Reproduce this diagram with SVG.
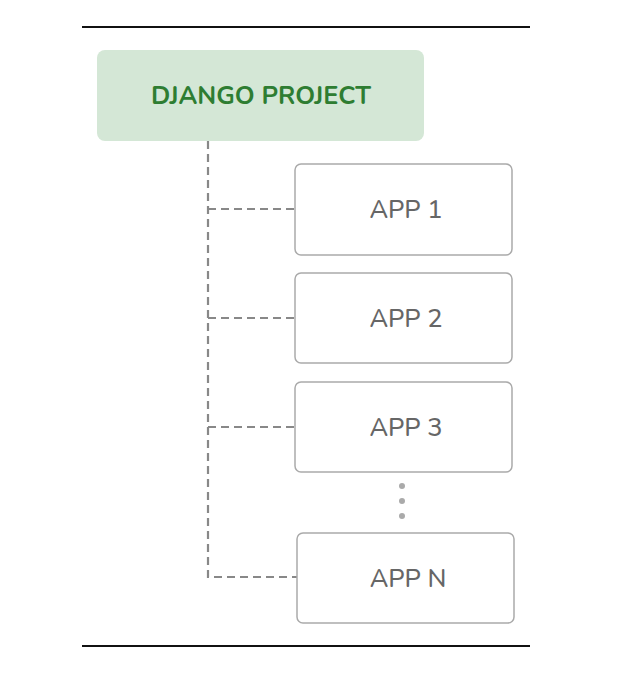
<svg xmlns="http://www.w3.org/2000/svg" width="622" height="681" viewBox="0 0 622 681">
<style>
.app rect{fill:#fff;stroke:#aaa;stroke-width:1.5}
.app text{font-family:"Nunito","Lato","Open Sans",sans-serif;font-size:25.5px;font-weight:500;fill:#666;text-anchor:middle}
.conn{fill:none;stroke:#888;stroke-width:2.2;stroke-dasharray:8 5}
.rule{stroke:#111;stroke-width:2}
</style>
<rect width="622" height="681" fill="#fff"/>
<line class="rule" x1="82" y1="27" x2="530" y2="27"/>
<line class="rule" x1="82" y1="646" x2="530" y2="646"/>
<g id="connectors">
<path class="conn" d="M208 141 V577 H297"/>
<path class="conn" d="M208 209 H295"/>
<path class="conn" d="M208 318 H295"/>
<path class="conn" d="M208 427 H295"/>
</g>
<g id="django">
<rect x="97" y="50" width="327" height="91" rx="8" fill="#d4e7d6"/>
<text x="261" y="104" font-family="Nunito,Lato,'Open Sans',sans-serif" font-size="25.3" font-weight="bold" fill="#2e7d32" text-anchor="middle">DJANGO PROJECT</text>
</g>
<g id="app1" class="app"><rect x="295" y="164" width="217" height="91" rx="6"/><text x="406" y="218">APP 1</text></g>
<g id="app2" class="app"><rect x="295" y="273" width="217" height="90" rx="6"/><text x="406" y="327">APP 2</text></g>
<g id="app3" class="app"><rect x="295" y="382" width="217" height="90" rx="6"/><text x="406" y="436">APP 3</text></g>
<g id="dots" fill="#aaa"><circle cx="402" cy="486" r="3"/><circle cx="402" cy="501" r="3"/><circle cx="402" cy="516" r="3"/></g>
<g id="appN" class="app"><rect x="297" y="533" width="217" height="90" rx="6"/><text x="408" y="587">APP N</text></g>
</svg>
